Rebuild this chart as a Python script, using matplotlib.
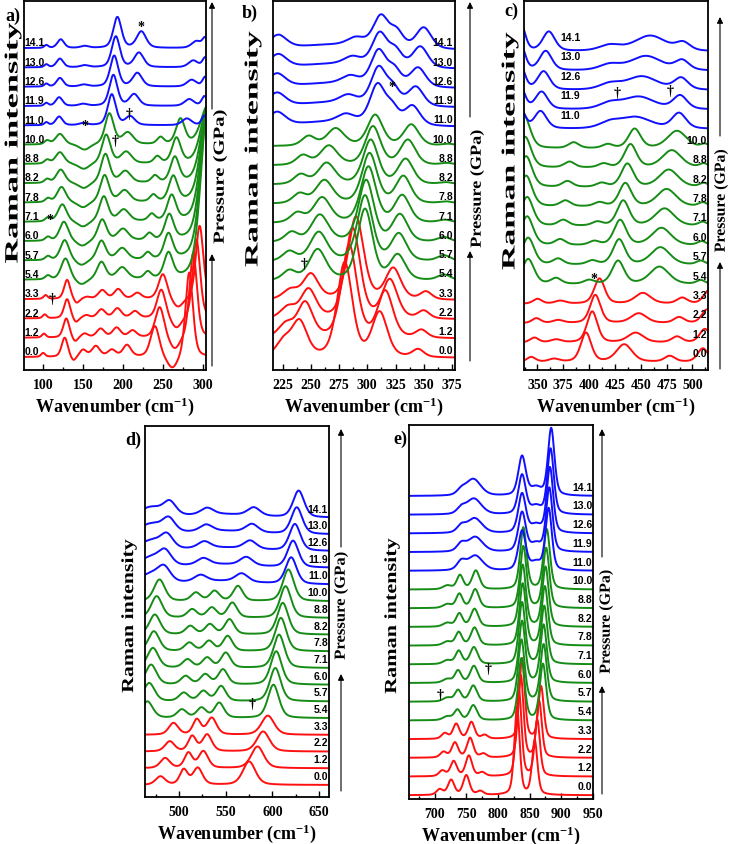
import numpy as np
import matplotlib
matplotlib.use("Agg")
import matplotlib.pyplot as plt
from matplotlib.ticker import MultipleLocator
from matplotlib.textpath import TextPath
from matplotlib.patches import PathPatch, FancyArrowPatch
from matplotlib.font_manager import FontProperties
from matplotlib.transforms import Affine2D, IdentityTransform

W, H, DPI = 729, 845, 100
plt.rcParams["mathtext.fontset"] = "custom"
plt.rcParams["mathtext.rm"] = "Liberation Serif:bold"
plt.rcParams["mathtext.default"] = "rm"

pressures = ["0.0", "1.2", "2.2", "3.3", "5.4", "5.7", "6.0", "7.1", "7.8",
             "8.2", "8.8", "10.0", "11.0", "11.9", "12.6", "13.0", "14.1"]
phases = ["r"] * 4 + ["g"] * 8 + ["b"] * 5
colors = {"r": "#ff1010", "g": "#168c16", "b": "#1010ff"}

# peak rows: (centres for each spectrum of the phase, heights, half width)
a_red = [
    ([100, 101, 102, 103], 0.2, 3),
    ([127, 129, 130, 130], 1.0, 4.5),
    ([150, 152, 154, 155], [0.35, 0.2, 0.15, 0.1], 5),
    ([166, 172, 173, 174], [0.55, 0.45, 0.45, 0.45], 6),
    ([186, 192, 193, 194], [0.35, 0.5, 0.5, 0.5], 6),
    ([205, 212, 215, 218], [0.6, 0.35, 0.35, 0.3], 6),
    ([240, 246, 248, 250], [1.6, 1.6, 1.5, 1.3], 6.5),
    ([283, 288, 292, 296], [4.4, 4.4, 4.1, 3.8], 5.5),
    ([138, 140, 141, 142], -0.25, 4),
    ([262, 265, 267, 269], [-0.7, -0.7, -0.6, -0.5], 8),
]
a_green = [
    ([106, 106, 106, 106, 106, 105, 105, 105], 0.2, 4),
    ([128, 127, 126, 124, 123, 122, 121, 121], [1.1, 1.05, 1.0, 0.9, 0.8, 0.7, 0.6, 0.55], 6.5),
    ([173, 173, 174, 176, 177, 178, 179, 183], [0.9, 1.0, 1.1, 1.3, 1.4, 1.5, 1.5, 1.6], 6.5),
    ([199, 199, 200, 201, 202, 203, 204, 206], 0.6, 8),
    ([231, 231, 233, 236, 238, 240, 243, 247], 0.35, 5),
    ([257, 257, 258, 261, 263, 265, 267, 272], 1.3, 6.5),
    ([306, 306, 306, 306, 306, 306, 306, 306], [9.0, 8.0, 7.0, 6.0, 5.0, 4.0, 3.0, 2.0], 10),
    ([148, 148, 149, 150, 150, 151, 151, 152], -0.3, 8),
]
a_blue = [
    ([104, 104, 104, 104, 104], 0.15, 3),
    ([120, 120, 121, 121, 122], 0.45, 5),
    ([150, 150, 151, 152, 152], 0.1, 6),
    ([186, 188, 189, 191, 193], 1.6, 6),
    ([209, 214, 218, 220, 223], [0.45, 0.6, 0.7, 0.75, 0.85], 7),
    ([280, 283, 286, 288, 292], 0.35, 7),
    ([302, 302, 303, 303, 303], 0.5, 4),
]

b_red = [
    ([226, 228, 230, 232], [0.8, 0.7, 0.6, 0.5], 8),
    ([240, 245, 248, 250], [1.8, 1.8, 1.5, 1.3], 8),
    ([280, 284, 287, 290], [4.9, 4.8, 4.7, 4.3], 8),
    ([311, 316, 320, 323], [2.3, 2.4, 2.0, 1.6], 8),
    ([345, 348, 350, 352], 0.4, 6),
]
b_green = [
    ([231, 231, 233, 238, 240, 241, 243, 248], 0.5, 7),
    ([256, 257, 258, 260, 262, 264, 266, 272], [1.6, 1.5, 1.4, 1.3, 1.2, 1.1, 1.0, 0.9], 9),
    ([298, 298, 299, 301, 302, 303, 305, 307], [3.7, 3.4, 3.2, 2.9, 2.6, 2.3, 2.0, 1.6], 8),
    ([327, 328, 329, 331, 332, 334, 336, 339], [1.3, 1.4, 1.4, 1.4, 1.4, 1.3, 1.3, 1.1], 8),
    ([368, 368, 368, 369, 370, 370, 371, 372], [0.3, 0.3, 0.25, 0.15, 0.1, 0.1, 0.1, 0.1], 7),
]
b_blue = [
    ([220, 220, 220, 221, 221], 0.7, 9),
    ([270, 270, 270, 270, 270], 0.25, 40),
    ([281, 283, 285, 287, 290], 0.4, 9),
    ([309, 310, 310, 311, 312], [2.0, 1.9, 1.8, 1.7, 1.6], 8),
    ([322, 323, 324, 325, 326], 0.8, 7),
    ([340, 343, 345, 347, 350], [1.0, 1.0, 1.0, 1.1, 1.1], 8),
]

c_red = [
    ([344, 347, 349, 350], 0.25, 5),
    ([366, 368, 370, 372], 0.15, 6),
    ([397, 403, 406, 410], [1.5, 1.6, 1.45, 1.3], 6),
    ([434, 445, 448, 452], [0.9, 0.5, 0.5, 0.55], 9),
    ([478, 485, 487, 490], 0.3, 6),
    ([510, 512, 514, 516], 0.7, 6),
]
c_green = [
    ([341, 341, 340, 340, 339, 339, 338, 337], [1.3, 1.4, 1.5, 1.5, 1.6, 1.6, 1.6, 1.7], 7),
    ([368, 370, 372, 375, 377, 379, 381, 385], 0.3, 6),
    ([400, 403, 405, 408, 410, 412, 414, 418], 0.2, 6),
    ([428, 429, 430, 433, 435, 437, 440, 444], [1.2, 1.3, 1.3, 1.3, 1.2, 1.2, 1.2, 1.0], 7),
    ([468, 469, 470, 473, 475, 477, 480, 485], 0.9, 11),
    ([508, 508, 509, 510, 510, 511, 511, 512], 0.2, 5),
]
c_blue = [
    ([334, 334, 334, 334, 334], [1.0, 1.1, 1.2, 1.3, 1.4], 5),
    ([353, 354, 356, 358, 361], [0.9, 0.9, 0.95, 1.0, 1.0], 7),
    ([420, 420, 420, 420, 420], 0.3, 12),
    ([445, 448, 451, 455, 459], [0.6, 0.65, 0.7, 0.75, 0.8], 18),
    ([487, 488, 489, 490, 491], [0.8, 0.7, 0.6, 0.5, 0.4], 8),
]

d_red = [
    ([480, 485, 490, 494], [0.5, 0.6, 0.6, 0.7], 6),
    ([505, 510, 514, 519], 0.9, 5),
    ([520, 526, 530, 535], 1.0, 6),
    ([575, 584, 590, 595], [1.4, 1.3, 1.2, 1.15], 8),
]
d_green = [
    ([466, 468, 470, 472, 473, 474, 476, 479], [1.0, 1.1, 1.2, 1.2, 1.2, 1.2, 1.3, 1.3], 7),
    ([503, 505, 507, 509, 511, 512, 514, 518], 0.5, 6),
    ([524, 526, 528, 530, 532, 533, 535, 538], 0.6, 6),
    ([543, 545, 547, 550, 552, 554, 557, 563], 0.9, 6),
    ([601, 603, 604, 607, 609, 611, 614, 617], [2.0, 2.0, 2.0, 2.0, 2.0, 1.9, 1.9, 1.9], 7),
]
d_blue = [
    ([470, 470, 470, 470, 470], 0.6, 15),
    ([484, 485, 487, 489, 490], 0.8, 8),
    ([523, 526, 527, 529, 530], 0.4, 8),
    ([545, 545, 545, 545, 545], 0.2, 40),
    ([567, 572, 576, 578, 580], 0.5, 8),
    ([620, 622, 624, 626, 628], 1.6, 7),
]

e_red = [
    ([708, 712, 714, 716], 0.3, 6),
    ([726, 730, 732, 734], 0.8, 6),
    ([750, 754, 756, 758], [1.05, 1.1, 1.05, 0.9], 6),
    ([772, 775, 777, 779], 0.2, 6),
    ([830, 833, 836, 838], [4.7, 4.6, 4.4, 4.3], 5),
    ([858, 862, 865, 868], [2.9, 3.0, 3.0, 2.8], 5),
]
e_green = [
    ([720, 720, 720, 720, 720, 720, 720, 720], 0.2, 8),
    ([736, 737, 737, 738, 738, 739, 739, 740], [0.55, 0.6, 0.65, 0.7, 0.7, 0.7, 0.75, 0.75], 6),
    ([761, 761, 762, 762, 763, 763, 764, 765], [0.8, 0.85, 0.9, 0.9, 0.95, 0.95, 1.0, 1.0], 7),
    ([837, 837, 838, 838, 839, 839, 840, 840], 3.3, 6),
    ([871, 872, 872, 873, 874, 875, 876, 877], [3.0, 3.05, 3.1, 3.1, 3.15, 3.2, 3.2, 3.2], 6),
]
e_blue = [
    ([742, 742, 742, 742, 742], [0.45, 0.4, 0.35, 0.3, 0.25], 8),
    ([764, 764, 763, 762, 761], [0.8, 0.8, 0.8, 0.85, 0.9], 14),
    ([838, 838, 838, 838, 838], 2.1, 7),
    ([860, 860, 860, 860, 860], 0.4, 10),
    ([880, 881, 882, 883, 884], [3.3, 3.4, 3.5, 3.5, 3.6], 6),
]

# (x, y in offset units, symbol)
a_marks = [(223, 17.1, "*"), (152, 12.0, "*"), (208, 12.6, "\u2020"),
           (190, 11.2, "\u2020"), (109, 7.15, "*"), (111, 3.04, "\u2020")]
b_marks = [(321.5, 14.1, "*"), (244, 4.9, "\u2020")]
c_marks = [(427, 13.9, "\u2020"), (478, 14.0, "\u2020"), (405, 4.3, "*")]
d_marks = [(578.6, 4.85, "\u2020")]
e_marks = [(784, 6.76, "\u2020"), (708, 5.39, "\u2020")]

panels = [
    dict(name="a)", rows=(a_red, a_green, a_blue), box=(24, 2, 206, 371),
         xlim=(76, 304), ylim=(-0.67, 18.44), major=50, minor=25, marks=a_marks,
         lab=("left", 77, 0.3, None), letter=(13, 16),
         ylab=(13, 144, 240, 17), arrow=(212, 367, 255, 110, 3), ptxt=(220, 178, 133, 14)),
    dict(name="b)", rows=(b_red, b_green, b_blue), box=(273, 2, 455, 371),
         xlim=(216.5, 377.7), ylim=(-0.62, 18.55), major=25, minor=12.5, marks=b_marks,
         lab=("right", 376, 0.4, None), letter=(250, 13),
         ylab=(253, 150, 235, 17), arrow=(470, 362, 252, 118, 3), ptxt=(477, 190, 117, 14)),
    dict(name="c)", rows=(c_red, c_green, c_blue), box=(524, 2, 708, 371),
         xlim=(337, 515), ylim=(-0.41, 18.6), major=25, minor=12.5, marks=c_marks,
         lab=("right", 514, 0.45, 372), letter=(511, 11),
         ylab=(510, 152, 237, 17), arrow=(720, 370, 263, 137, 18), ptxt=(721, 202, 102, 14)),
    dict(name="d)", rows=(d_red, d_green, d_blue), box=(145, 427, 329, 798),
         xlim=(463.5, 660.5), ylim=(-0.72, 21.5), major=50, minor=25, marks=d_marks,
         lab=("right", 659.5, 0.55, None), letter=(133, 440),
         ylab=(129, 617, 153, 15.5), arrow=(341, 792, 675, 548, 430), ptxt=(341, 607, 107, 14)),
    dict(name="e)", rows=(e_red, e_green, e_blue), box=(409, 426, 593, 800),
         xlim=(659.5, 950), ylim=(-0.2, 19.8), major=50, minor=25, marks=e_marks,
         lab=("right", 949, 0.5, None), letter=(400, 439),
         ylab=(392, 617, 155, 15.5), arrow=(602, 795, 687, 558, 430), ptxt=(606, 623, 103, 14)),
]

serif_b = FontProperties(family="Liberation Serif", weight="bold")


def band(x, c, w, eta=0.4):
    u = (x - c) / w
    return eta / (1 + u ** 2) + (1 - eta) * np.exp(-np.log(2) * u ** 2)


def spectra(x, rows):
    out = []
    for group in rows:
        n = len(group[0][0])
        for k in range(n):
            y = np.zeros_like(x)
            for pos, amp, w in group:
                h = amp[k] if isinstance(amp, list) else amp
                y += h * band(x, pos[k], w)
            out.append(y)
    return out


def fig_xy(px, py):
    return px / W, 1 - py / H


def vtext(fig, s, cx, cy, length, thick):
    # vertical text fitted to a measured length and thickness (pixels)
    tp = TextPath((0, 0), s, size=20, prop=serif_b)
    bb = tp.get_extents()
    sx = length / bb.width
    sy = thick / bb.height
    tr = (Affine2D().translate(-(bb.x0 + bb.x1) / 2, -(bb.y0 + bb.y1) / 2)
          .scale(sx, sy).rotate_deg(90).translate(cx, H - cy))
    fig.add_artist(PathPatch(tr.transform_path(tp), transform=IdentityTransform(),
                             facecolor="black", edgecolor="none"))


fig = plt.figure(figsize=(W / DPI, H / DPI), dpi=DPI)

for p in panels:
    x0, y0, x1, y1 = p["box"]
    ax = fig.add_axes([x0 / W, 1 - y1 / H, (x1 - x0) / W, (y1 - y0) / H])
    x = np.linspace(p["xlim"][0], p["xlim"][1], 900)
    curves = spectra(x, p["rows"])
    side, lx, dy, blue_x = p["lab"]
    for i, y in enumerate(curves):
        ax.plot(x, y + i, color=colors[phases[i]], lw=1.4, solid_joinstyle="round")
        if blue_x is not None and phases[i] == "b":
            ax.text(blue_x, i + 0.75, pressures[i], ha="left", va="center",
                    fontsize=7.5, fontweight="bold", family="Liberation Sans")
        else:
            ax.text(lx, i + dy, pressures[i], ha=side, va="center",
                    fontsize=7.5, fontweight="bold", family="Liberation Sans")
    for mx, my, sym in p["marks"]:
        ax.text(mx, my, sym, ha="center", va="center", fontsize=10,
                fontweight="bold", family="Liberation Serif")
    ax.set_xlim(*p["xlim"])
    ax.set_ylim(*p["ylim"])
    ax.set_yticks([])
    ax.xaxis.set_major_locator(MultipleLocator(p["major"]))
    ax.xaxis.set_minor_locator(MultipleLocator(p["minor"]))
    ax.tick_params(axis="x", which="major", direction="in", length=4, width=1, pad=6)
    ax.tick_params(axis="x", which="minor", direction="in", length=2.5, width=1)
    for lab in ax.get_xticklabels():
        lab.set_fontfamily("Liberation Serif")
        lab.set_fontweight("bold")
        lab.set_fontsize(10)
    for s in ax.spines.values():
        s.set_linewidth(1.3)
    ax.set_xlabel("Wavenumber (cm$^{-1}$)", fontsize=13, fontweight="bold",
                  family="Liberation Serif", labelpad=2)

    fig.text(*fig_xy(*p["letter"]), p["name"], ha="center", va="center",
             fontsize=13, fontweight="bold", family="Liberation Serif")
    vtext(fig, "Raman intensity", *p["ylab"])
    vtext(fig, "Pressure (GPa)", *p["ptxt"])
    axx, low0, low1, up0, up1 = p["arrow"]
    for ya, yb in ((low0, low1), (up0, up1)):
        fig.add_artist(FancyArrowPatch(fig_xy(axx, ya), fig_xy(axx, yb),
                                       transform=fig.transFigure, arrowstyle="-|>",
                                       mutation_scale=9, lw=0.8, color="black",
                                       shrinkA=0, shrinkB=0))

fig.savefig("out.png", dpi=DPI)
